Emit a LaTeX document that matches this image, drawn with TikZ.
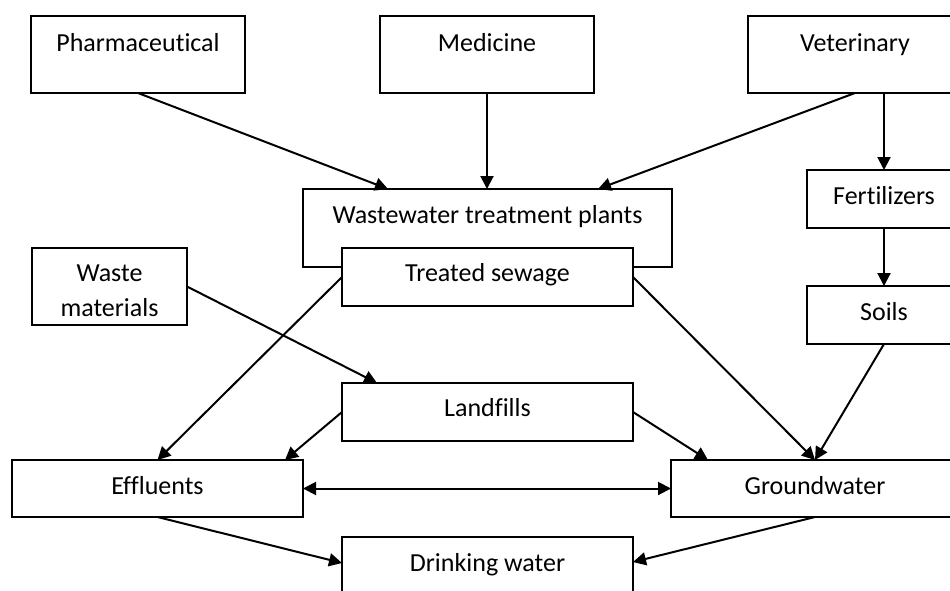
\documentclass[tikz,border=0pt]{standalone}
\usepackage{fontspec}
\setmainfont[Ligatures=NoCommon]{Carlito}
\usetikzlibrary{arrows.meta,calc}
\begin{document}
\begin{tikzpicture}[x=1pt,y=-1pt,
  box/.style={draw=black,line width=2pt,fill=white,rectangle,inner sep=0pt,outer sep=0pt,anchor=north west},
  txt/.style={font=\fontsize{26}{35}\selectfont,inner sep=0pt,align=center,text height=20pt,text depth=4pt},
  arr/.style={line width=2pt,-{Triangle[length=13pt,width=13pt]}},
  darr/.style={line width=2pt,{Triangle[length=13pt,width=13pt]}-{Triangle[length=13pt,width=13pt]}}]
\useasboundingbox (0,0) rectangle (950,590);
\begin{scope}
\clip (0,0) rectangle (950,590);
% boxes
\node[box,minimum width=214pt,minimum height=77pt] (ph) at (31,16) {};
\node[box,minimum width=214pt,minimum height=77pt] (me) at (380,16) {};
\node[box,minimum width=214pt,minimum height=77pt] (ve) at (748,16) {};
\node[box,minimum width=154pt,minimum height=58pt] (fe) at (807,170) {};
\node[box,minimum width=369pt,minimum height=78pt] (ww) at (303,189) {};
\node[box,minimum width=291pt,minimum height=58pt] (ts) at (342,248) {};
\node[box,minimum width=155pt,minimum height=77pt] (wm) at (32,248) {};
\node[box,minimum width=154pt,minimum height=58pt] (so) at (807,286) {};
\node[box,minimum width=291pt,minimum height=58pt] (lf) at (342,383) {};
\node[box,minimum width=291pt,minimum height=57pt] (ef) at (12,460) {};
\node[box,minimum width=288pt,minimum height=57pt] (gw) at (671,460) {};
\node[box,minimum width=291pt,minimum height=73pt] (dw) at (342,537) {};
% texts
\node[txt] (tph) at ($(ph.north)+(0,27)$) {Pharmaceutical};
\node[txt] (tme) at ($(me.north)+(0,27)$) {Medicine};
\node[txt] (tve) at ($(ve.north)+(0,27)$) {Veterinary};
\node[txt] (tfe) at ($(fe.north)+(0,26)$) {Fertilizers};
\node[txt] (tww) at ($(ww.north)+(0,26)$) {Wastewater treatment plants};
\node[txt] (tts) at ($(ts.north)+(0,25)$) {Treated sewage};
\node[txt,text height=55pt] (twm) at ($(wm.north)+(0,42.5)$) {Waste\\materials};
\node[txt] (tso) at ($(so.north)+(0,26)$) {Soils};
\node[txt] (tlf) at ($(lf.north)+(0,25)$) {Landfills};
\node[txt] (tef) at ($(ef.north)+(0,26)$) {Effluents};
\node[txt] (tgw) at ($(gw.north)+(0,26)$) {Groundwater};
\node[txt] (tdw) at ($(dw.north)+(0,26)$) {Drinking water};
% connectors
\draw[arr] (ph.south) -- ($(ww.north west)+(85,0)$);
\draw[arr] (me.south) -- (me.south |- ww.north);
\draw[arr] (ve.south) -- ($(ww.north west)+(295,0)$);
\draw[arr] ($(ve.south west)+(136,0)$) -- (fe.north);
\draw[arr] (fe.south) -- (so.north);
\draw[arr] (wm.east) -- ($(lf.north west)+(35,0)$);
\draw[arr] (ts.west) -- (ef.north);
\draw[arr] (ts.east) -- (gw.north);
\draw[arr] (so.south) -- (gw.north);
\draw[arr] (lf.west) -- ($(ef.north east)+(-18,0)$);
\draw[arr] (lf.east) -- ($(gw.north west)+(37,0)$);
\draw[darr] (ef.east) -- (gw.west);
\draw[arr] (ef.south) -- ($(dw.north west)+(0,26)$);
\draw[arr] (gw.south) -- ($(dw.north east)+(0,25)$);
\end{scope}
\end{tikzpicture}
\end{document}
